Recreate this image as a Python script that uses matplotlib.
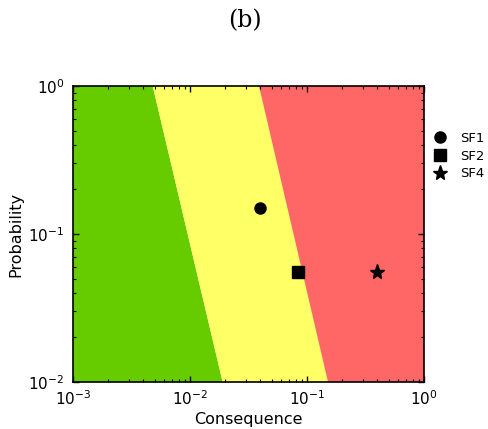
import matplotlib
matplotlib.use('Agg')
import matplotlib.pyplot as plt

# zone boundaries (consequence at prob=1 and at prob=0.01)
green_edge = [0.0048, 0.019]
red_edge = [0.039, 0.152]

names = ['SF1', 'SF2', 'SF4']
consequence = [0.040, 0.083, 0.40]
probability = [0.15, 0.055, 0.055]
markers = ['o', 's', '*']
sizes = [8, 8, 11]

fig = plt.figure(figsize=(4.89, 4.29), dpi=100)
ax = fig.add_axes([73/489, 1-382/429, 351/489, 296/429])
ax.set_xscale('log')
ax.set_yscale('log')

ax.fill([1e-3, green_edge[0], green_edge[1], 1e-3], [1, 1, 1e-2, 1e-2],
        color='#66cc00', lw=0)
ax.fill([green_edge[0], red_edge[0], red_edge[1], green_edge[1]], [1, 1, 1e-2, 1e-2],
        color='#ffff66', lw=0)
ax.fill([red_edge[0], 1, 1, red_edge[1]], [1, 1, 1e-2, 1e-2],
        color='#ff6666', lw=0)

for i in range(3):
    ax.plot(consequence[i], probability[i], ls='none', marker=markers[i],
            color='k', ms=sizes[i], label=names[i])

ax.set_xlim(1e-3, 1)
ax.set_ylim(1e-2, 1)
ax.tick_params(which='both', direction='in', top=True, right=True, labelsize=11)
ax.tick_params(axis='x', pad=5)
ax.tick_params(axis='y', pad=6)
ax.tick_params(which='major', length=4, width=1)
ax.tick_params(which='minor', length=2, width=0.8)
for s in ax.spines.values():
    s.set_linewidth(1.2)
ax.set_xlabel('Consequence', fontsize=11.5, labelpad=3)
ax.set_ylabel('Probability', fontsize=11.5)

ax.legend(loc='upper left', bbox_to_anchor=(0.99, 0.885), frameon=False,
          fontsize=9.5, handletextpad=0.9, labelspacing=0.35, numpoints=1,
          handlelength=1.2)

fig.text(0.5, 1-21/429, '(b)', ha='center', va='center', family='serif', fontsize=17)

fig.savefig('out.png', dpi=100)
